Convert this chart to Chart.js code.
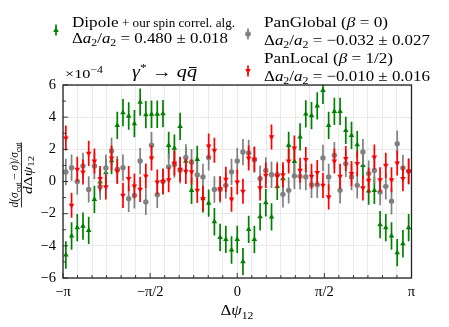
<!DOCTYPE html>
<html>
<head>
<meta charset="utf-8">
<script src="https://cdn.jsdelivr.net/npm/chart.js@4.4.1/dist/chart.umd.min.js"></script>
<style>
  html, body { margin: 0; padding: 0; background: #fff; }
  #wrap { position: relative; width: 449px; height: 327px; }
</style>
</head>
<body>
<div id="wrap"><canvas id="c" width="449" height="327"></canvas></div>
<script>
// values in units of 1e-4, one per bin in Delta psi_12
const nBins = 61;
const dipole = [-4.57, -3.39, -2.87, -2.77, -3.04, -1.11, -0.03, 0.55, 1.3, 3.49,
    4.28, 4.07, 3.6, 4.94, 4.16, 4.18, 4.18, 4.22, 2.25, 2.08,
    3.43, 1.27, -0.55, 1.38, -1.07, -1.34, -2.5, -3.47, -3.6, -4.26,
    -3.6, -4.98, -2.98, -3.6, -2.19, -1.32, -2.2, -0.3, 0.18, 2.25,
    1.25, 2.77, 4.2, 4.1, 4.7, 5.67, 3.49, 4.36, 4.36, 3.18,
    2.87, 2.29, 1.0, -0.59, -0.55, -2.68, -2.87, -3.39, -4.42, -3.87,
    -2.87];
const panGlobal = [0.59, 0.86, 0.0, 0.96, -0.49, 0.96, -0.32, 0.84, 1.9, 0.76,
    0.86, -1.07, -0.86, 1.27, -1.27, 2.25, -0.82, 0.0, 0.9, 1.05,
    0.7, 1.5, 1.2, 0.4, 0.28, 1.5, -0.5, -0.5, -0.24, 0.6,
    1.27, 1.83, 1.77, 1.36, 0.18, 0.69, 0.42, 0.42, -0.8, -0.55,
    0.34, 0.32, 0.28, -0.2, -0.2, 1.46, 0.28, 1.63, -0.55, 1.1,
    0.28, -0.24, 1.83, 0.49, 0.69, -0.65, -0.3, -1.23, 2.35, 0.84,
    0.63];
const panLocal = [2.7, -1.48, 0.76, 0.59, 1.75, 1.27, 0.18, -0.34, 1.46, 0.63,
    -0.86, 0.18, -0.28, -0.49, 0.34, 1.46, -0.03, 0.0, 0.11, 1.15,
    0.76, 0.63, 0.6, -0.55, -1.07, 2.2, 1.94, -0.45, 0.13, -1.1,
    -0.03, -0.61, 1.46, 1.38, -0.4, 0.38, 2.77, 0.34, 0.42, 1.27,
    2.08, 0.7, 1.36, 0.32, 0.55, -0.24, -0.96, 1.27, 0.32, 1.42,
    0.49, 1.11, -0.4, 0.07, 1.52, 0.11, 1.0, 0.11, 1.15, 0.18,
    0.63];
// roughly constant error bar half-heights
const dipoleErr = 0.85, panGlobalErr = 0.82, panLocalErr = 0.78;

const xTickLabels = { '-12': '−π', '-6': '−π/2', '0': '0', '6': 'π/2', '12': 'π' };
const yTicks = [-6, -4, -2, 0, 2, 4, 6];

const binCenters = [];
for (let i = 0; i < nBins; i++) binCenters.push(-Math.PI + (i + 0.5) * 2 * Math.PI / nBins);
const pts = vals => vals.map((v, i) => ({ x: binCenters[i], y: v }));

const SERIF = '"Liberation Serif", "DejaVu Serif", serif';
const GREEN = '#008000', GRAY = '#808080', RED = '#ff0000';

// parts: [text, size, dy, style]; fitW stretches the run to the width seen in the reference
function rich(ctx, parts, x, y, align, fitW) {
    const f = p => (p[3] || '') + ' ' + p[1] + 'px ' + SERIF;
    let w = 0;
    parts.forEach(p => { ctx.font = f(p); w += ctx.measureText(p[0]).width; });
    const sx = fitW ? fitW / w : 1;
    const W = w * sx;
    const x0 = align === 'center' ? x - W / 2 : (align === 'right' ? x - W : x);
    ctx.save();
    ctx.translate(x0, y);
    ctx.scale(sx, 1);
    let cx = 0;
    parts.forEach(p => {
        ctx.font = f(p);
        ctx.fillText(p[0], cx, p[2] || 0);
        cx += ctx.measureText(p[0]).width;
    });
    ctx.restore();
    return { x0: x0, w: W, sx: sx };
}

function marker(ctx, style, x, y, r, color) {
    ctx.fillStyle = color;
    ctx.beginPath();
    if (style === 'circle') ctx.arc(x, y, r, 0, Math.PI * 2);
    else {
        const s = style === 'up' ? 1 : -1;
        ctx.moveTo(x, y - s * r * 1.1);
        ctx.lineTo(x + r, y + s * r * 0.7);
        ctx.lineTo(x - r, y + s * r * 0.7);
        ctx.closePath();
    }
    ctx.fill();
}

function legendEntry(ctx, style, color, x, y) {
    ctx.strokeStyle = color; ctx.lineWidth = 1.7;
    ctx.beginPath(); ctx.moveTo(x, y - 5.5); ctx.lineTo(x, y + 5.5); ctx.stroke();
    marker(ctx, style, x, y, 2.8, color);
}

function da2(val) {
    return [['Δ', 15], ['a', 15, 0, 'italic'], ['2', 10.5, 3], ['/', 15], ['a', 15, 0, 'italic'], ['2', 10.5, 3],
            [' = ', 15], [val, 15]];
}

const errorBars = {
    id: 'errorBars',
    beforeDatasetDraw(chart, args) {
        const ds = chart.data.datasets[args.index];
        const { ctx, chartArea: a, scales: { x, y } } = chart;
        ctx.save();
        ctx.beginPath(); ctx.rect(a.left, a.top, a.right - a.left, a.bottom - a.top); ctx.clip();
        ctx.strokeStyle = ds.borderColor; ctx.lineWidth = 1.7;
        ds.data.forEach(p => {
            const px = x.getPixelForValue(p.x);
            ctx.beginPath();
            ctx.moveTo(px, y.getPixelForValue(p.y - ds.err));
            ctx.lineTo(px, y.getPixelForValue(p.y + ds.err));
            ctx.stroke();
        });
        ctx.restore();
    }
};

const decorations = {
    id: 'decorations',
    afterDraw(chart) {
        const { ctx, chartArea: a, scales: { x, y } } = chart;
        ctx.save();
        // inward ticks
        ctx.strokeStyle = '#222'; ctx.lineWidth = 0.9;
        for (let k = -12; k <= 12; k++) {
            const px = x.getPixelForValue(k * Math.PI / 12);
            const len = k % 6 === 0 ? 5 : 3;
            ctx.beginPath(); ctx.moveTo(px, a.bottom); ctx.lineTo(px, a.bottom - len); ctx.stroke();
        }
        for (let v = -6; v <= 6; v++) {
            const py = y.getPixelForValue(v);
            const len = v % 2 === 0 ? 5 : 3;
            ctx.beginPath(); ctx.moveTo(a.left, py); ctx.lineTo(a.left + len, py); ctx.stroke();
        }
        // frame
        ctx.strokeStyle = '#222'; ctx.lineWidth = 1.3;
        ctx.strokeRect(a.left, a.top, a.right - a.left, a.bottom - a.top);

        ctx.fillStyle = '#000'; ctx.textBaseline = 'alphabetic';
        // exponent
        rich(ctx, [['×10', 13], ['−4', 9.5, -5.5]], 65, 78, 'left', 38);
        // process label
        const t = rich(ctx, [['γ', 16.5, 0, 'italic'], ['*', 11, -6.5], [' → ', 16.5], ['q', 16.5, 0, 'italic'], ['q', 16.5, 0, 'italic']], 132, 77, 'left', 65);
        ctx.font = 'italic 16.5px ' + SERIF;
        const qw = ctx.measureText('q').width * t.sx;
        ctx.lineWidth = 1; ctx.strokeStyle = '#000';
        ctx.beginPath(); ctx.moveTo(t.x0 + t.w - qw + 2, 67.5); ctx.lineTo(t.x0 + t.w - 0.5, 67.5); ctx.stroke();
        // x axis title
        rich(ctx, [['Δ', 15], ['ψ', 15, 0, 'italic'], ['12', 10.5, 3.5]], 237, 315, 'center', 33);
        // y axis title (rotated fraction)
        ctx.save();
        ctx.translate(21.5, 175);
        ctx.rotate(-Math.PI / 2);
        const n = rich(ctx, [['d', 11.5, 0, 'italic'], ['(', 11.5], ['σ', 11.5, 0, 'italic'], ['cut', 8, 2.5], [' − ', 11.5],
                             ['σ', 11.5, 0, 'italic'], [')/', 11.5], ['σ', 11.5, 0, 'italic'], ['cut', 8, 2.5]], 0, -3.5, 'center', 65);
        ctx.lineWidth = 0.8;
        ctx.beginPath(); ctx.moveTo(-n.w / 2, 0); ctx.lineTo(n.w / 2, 0); ctx.stroke();
        rich(ctx, [['d', 11.5, 0, 'italic'], ['Δ', 11.5], ['ψ', 11.5, 0, 'italic'], ['12', 8, 2.5]], 0, 10, 'center', 38);
        ctx.restore();

        // legend
        legendEntry(ctx, 'up', GREEN, 56, 30);
        ctx.fillStyle = '#000';
        rich(ctx, [['Dipole', 15], [' + our spin correl. alg.', 11.5]], 72, 26.5, 'left', 163);
        rich(ctx, da2('0.480 ± 0.018'), 72, 43, 'left', 156);
        legendEntry(ctx, 'circle', GRAY, 248, 34);
        ctx.fillStyle = '#000';
        rich(ctx, [['PanGlobal (', 15], ['β', 15, 0, 'italic'], [' = 0)', 15]], 264, 26.5, 'left', 124);
        rich(ctx, da2('−0.032 ± 0.027'), 264, 45, 'left', 166);
        legendEntry(ctx, 'down', RED, 248, 71);
        ctx.fillStyle = '#000';
        rich(ctx, [['PanLocal (', 15], ['β', 15, 0, 'italic'], [' = 1/2)', 15]], 264, 63, 'left', 129);
        rich(ctx, da2('−0.010 ± 0.016'), 264, 80.5, 'left', 166);
        ctx.restore();
    }
};

const xTickVals = [];
for (let k = -12; k <= 12; k++) xTickVals.push(k);

new Chart(document.getElementById('c'), {
    type: 'scatter',
    data: {
        datasets: [
            { label: 'Dipole', data: pts(dipole), err: dipoleErr, order: 3, borderColor: GREEN, backgroundColor: GREEN,
              pointStyle: 'triangle', pointRadius: 3.2, borderWidth: 0 },
            { label: 'PanGlobal', data: pts(panGlobal), err: panGlobalErr, order: 2, borderColor: GRAY, backgroundColor: GRAY,
              pointStyle: 'circle', pointRadius: 2.7, borderWidth: 0 },
            { label: 'PanLocal', data: pts(panLocal), err: panLocalErr, order: 1, borderColor: RED, backgroundColor: RED,
              pointStyle: 'triangle', pointRotation: 180, pointRadius: 3.2, borderWidth: 0 }
        ]
    },
    options: {
        responsive: false,
        animation: false,
        layout: { padding: { left: 0, right: 37.5, top: 85, bottom: 0 } },
        plugins: { legend: { display: false }, tooltip: { enabled: false } },
        scales: {
            x: {
                type: 'linear', min: -Math.PI, max: Math.PI,
                afterBuildTicks: s => { s.ticks = xTickVals.map(k => ({ value: k * Math.PI / 12 })); },
                afterFit: s => { s.height = 49; },
                ticks: { autoSkip: false, maxRotation: 0, padding: 5, color: '#000',
                         font: { family: SERIF, size: 14.5 },
                         callback: (v, i) => xTickLabels[String(xTickVals[i])] || '' },
                grid: { color: '#e4e4e4', lineWidth: 0.8, drawTicks: false },
                border: { display: false }
            },
            y: {
                min: -6, max: 6,
                afterBuildTicks: s => { s.ticks = yTicks.map(v => ({ value: v })); },
                afterFit: s => { s.width = 63; },
                ticks: { padding: 7, color: '#000', font: { family: SERIF, size: 14.5 },
                         callback: v => v < 0 ? '−' + Math.abs(v) : String(v) },
                grid: { color: '#e4e4e4', lineWidth: 0.8, drawTicks: false },
                border: { display: false }
            }
        }
    },
    plugins: [errorBars, decorations]
});
</script>
</body>
</html>
